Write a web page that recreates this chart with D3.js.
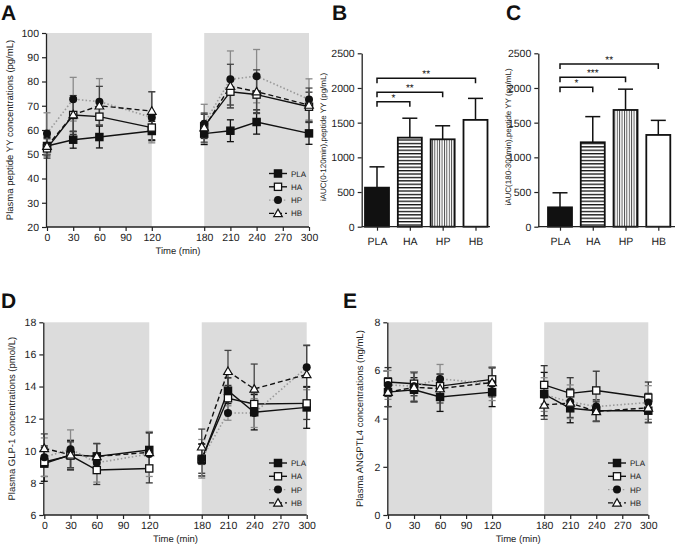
<!DOCTYPE html>
<html><head><meta charset="utf-8">
<script src="https://cdn.jsdelivr.net/npm/d3@7"></script>
<style>
body{margin:0;background:#fff;}
svg{display:block;font-family:"Liberation Sans",Arial,sans-serif;}
</style></head>
<body>
<script>
// ---------- DATA ----------
const groups = ["PLA", "HA", "HP", "HB"];
const times = [0, 30, 60, 120, 180, 210, 240, 300];
const timeTicks = [0, 30, 60, 90, 120, 180, 210, 240, 270, 300];

// Panel A: plasma peptide YY (pg/mL)
const pyyPLA = [53.4, 56.0, 57.1, 59.6, 58.5, 59.7, 63.3, 58.6];
const pyyHA  = [52.4, 66.2, 65.5, 61.0, 61.5, 75.8, 74.6, 69.6];
const pyyHP  = [58.6, 72.7, 71.7, 65.2, 62.6, 80.9, 82.2, 72.6];
const pyyHB  = [53.3, 66.3, 70.0, 67.8, 61.0, 78.1, 75.8, 70.3];
const pyyErrPLA = [3.5, 3.5, 4.5, 4.0, 4.5, 4.5, 5.0, 4.5];
const pyyErrHA  = [4.0, 8.0, 3.5, 5.0, 5.0, 5.5, 7.5, 6.0];
const pyyErrHP  = [8.5, 9.0, 9.5, 10.5, 8.0, 11.7, 11.0, 8.5];
const pyyErrHB  = [4.0, 7.0, 8.0, 8.0, 6.0, 9.0, 9.0, 7.0];
const pyyTicks = [20, 30, 40, 50, 60, 70, 80, 90, 100];

// Panel B/C: iAUC peptide YY
const aucEarly = [563, 1284, 1260, 1540];
const aucEarlyErr = [300, 280, 195, 310];
const aucLate = [279, 1217, 1683, 1323];
const aucLateErr = [210, 370, 300, 210];
const aucTicks = [0, 500, 1000, 1500, 2000, 2500];
const sigEarly = [["HA", "*", 1800], ["HP", "**", 1940], ["HB", "**", 2140]];
const sigLate  = [["HA", "*", 2010], ["HP", "***", 2155], ["HB", "**", 2345]];

// Panel D: GLP-1 (pmol/L)
const glpPLA = [9.2, 9.75, 9.65, 10.05, 9.43, 13.74, 12.4, 12.7];
const glpHA  = [9.3, 9.7, 8.8, 8.9, 9.5, 13.27, 12.91, 12.95];
const glpHP  = [9.6, 10.1, 9.25, 9.8, 9.5, 12.35, 12.35, 15.2];
const glpHB  = [10.15, 9.75, 9.65, 9.9, 10.25, 14.95, 13.85, 14.75];
const glpErrPLA = [1.1, 0.9, 0.8, 1.1, 1.0, 0.8, 1.1, 1.3];
const glpErrHA  = [0.9, 0.9, 0.9, 0.9, 0.9, 0.8, 0.7, 1.0];
const glpErrHP  = [1.2, 1.2, 1.2, 1.4, 1.2, 0.45, 0.9, 1.4];
const glpErrHB  = [0.9, 0.8, 0.8, 1.2, 1.1, 1.3, 1.55, 1.8];
const glpTicks = [6, 8, 10, 12, 14, 16, 18];

// Panel E: ANGPTL4 (ng/mL)
const angPLA = [5.1, 5.2, 4.9, 5.1, 5.02, 4.43, 4.33, 4.33];
const angHA  = [5.52, 5.45, 5.35, 5.63, 5.4, 5.05, 5.17, 4.87];
const angHP  = [5.4, 5.35, 5.65, 5.45, 5.0, 4.7, 4.5, 4.67];
const angHB  = [5.1, 5.3, 5.25, 5.5, 4.57, 4.65, 4.3, 4.45];
const angErrPLA = [0.6, 0.5, 0.6, 0.6, 0.9, 0.6, 0.45, 0.5];
const angErrHA  = [0.6, 0.5, 0.5, 0.5, 0.8, 0.65, 0.8, 0.65];
const angErrHP  = [0.6, 0.6, 0.6, 0.7, 0.7, 0.7, 0.6, 0.7];
const angErrHB  = [0.6, 0.6, 0.6, 0.6, 0.6, 0.6, 0.4, 0.6];
const angTicks = [0, 2, 4, 6, 8];

// ---------- STYLE ----------
const styles = {
  PLA: {line: "#111", dash: null, marker: "square", fill: "#111", err: "#111"},
  HA:  {line: "#111", dash: null, marker: "square", fill: "#fff", err: "#333"},
  HP:  {line: "#9a9a9a", dash: "1.5,2.2", marker: "circle", fill: "#111", err: "#8a8a8a"},
  HB:  {line: "#111", dash: "5,3", marker: "triangle", fill: "#fff", err: "#444"}
};
const shade = "#dcdcdc";
const txt = "#222";

const svg = d3.select("body").append("svg").attr("width", 675).attr("height", 544)
  .attr("text-rendering", "geometricPrecision");

function letter(t, x, y) {
  svg.append("text").attr("x", x).attr("y", y).text(t)
    .attr("font-size", 21).attr("font-weight", "bold").attr("fill", "#111");
}

function marker(g, type, x, y, fill) {
  if (type === "square") {
    g.append("rect").attr("x", x - 3.6).attr("y", y - 3.6).attr("width", 7.2).attr("height", 7.2)
      .attr("fill", fill).attr("stroke", "#111").attr("stroke-width", 1.3);
  } else if (type === "circle") {
    g.append("circle").attr("cx", x).attr("cy", y).attr("r", 4).attr("fill", fill);
  } else {
    const s = 4.3;
    g.append("path").attr("d", `M${x},${y - s}L${x + s},${y + s * 0.75}L${x - s},${y + s * 0.75}Z`)
      .attr("fill", fill).attr("stroke", "#111").attr("stroke-width", 1.2);
  }
}

function styleAxis(a) {
  a.selectAll("path").attr("stroke", txt).attr("stroke-width", 1.3);
  a.selectAll("line").attr("stroke", txt).attr("stroke-width", 1.2);
  a.selectAll("text").attr("font-size", 10.5).attr("fill", txt)
    .attr("font-family", "Liberation Sans, Arial, sans-serif");
}

function lineChart(cfg) {
  const x = d3.scaleLinear().domain([0, 300]).range([cfg.x0, cfg.x1]);
  const y = d3.scaleLinear().domain(cfg.yDomain).range([cfg.yB, cfg.yT]);
  const g = svg.append("g");
  [[0, 120], [180, 300]].forEach(([a, b]) => {
    g.append("rect").attr("x", x(a)).attr("y", cfg.yT).attr("width", x(b) - x(a))
      .attr("height", cfg.yB - cfg.yT).attr("fill", shade);
  });
  const ax = g.append("g").attr("transform", `translate(0,${cfg.yB})`)
    .call(d3.axisBottom(x).tickValues(timeTicks).tickSize(4).tickPadding(3).tickSizeOuter(0));
  const ay = g.append("g").attr("transform", `translate(${cfg.axX},0)`)
    .call(d3.axisLeft(y).tickValues(cfg.yTicks).tickSize(4).tickPadding(3).tickSizeOuter(0));
  styleAxis(ax); styleAxis(ay);
  ax.select("path").attr("d", `M${cfg.axX},0H${x(300)}`);
  g.append("text").attr("x", (x(0) + x(300)) / 2).attr("y", cfg.yB + 27).attr("text-anchor", "middle")
    .attr("font-size", 9.5).attr("fill", txt).text("Time (min)");
  g.append("text").attr("transform", `translate(${cfg.labX},${(cfg.yT + cfg.yB) / 2}) rotate(-90)`)
    .attr("text-anchor", "middle").attr("font-size", 9.5).attr("fill", txt).text(cfg.yLabel);

  groups.forEach((grp, gi) => {
    const st = styles[grp];
    const vals = cfg.series[gi], errs = cfg.errs[gi];
    times.forEach((t, i) => {
      const cx = x(t), lo = y(vals[i] - errs[i]), hi = y(vals[i] + errs[i]);
      g.append("line").attr("x1", cx).attr("x2", cx).attr("y1", lo).attr("y2", hi)
        .attr("stroke", st.err).attr("stroke-width", 1.3);
      [lo, hi].forEach(yy => g.append("line").attr("x1", cx - 3.5).attr("x2", cx + 3.5)
        .attr("y1", yy).attr("y2", yy).attr("stroke", st.err).attr("stroke-width", 1.3));
    });
  });
  const lineGen = d3.line().x(d => x(d[0])).y(d => y(d[1]));
  groups.forEach((grp, gi) => {
    const st = styles[grp];
    const pts = times.map((t, i) => [t, cfg.series[gi][i]]);
    [pts.filter(p => p[0] <= 120), pts.filter(p => p[0] >= 180)].forEach(seg => {
      g.append("path").attr("d", lineGen(seg)).attr("fill", "none")
        .attr("stroke", st.line).attr("stroke-width", grp === "HP" ? 1.6 : 1.4)
        .attr("stroke-dasharray", st.dash);
    });
  });
  groups.forEach((grp, gi) => {
    const st = styles[grp];
    times.forEach((t, i) => marker(g, st.marker, x(t), y(cfg.series[gi][i]), st.fill));
  });
  groups.forEach((grp, gi) => {
    const st = styles[grp];
    const ly = cfg.legY + gi * 13.3;
    g.append("line").attr("x1", cfg.legX - 9).attr("x2", cfg.legX + 9).attr("y1", ly).attr("y2", ly)
      .attr("stroke", st.line).attr("stroke-width", 1.4).attr("stroke-dasharray", st.dash);
    marker(g, st.marker, cfg.legX, ly, st.fill);
    g.append("text").attr("x", cfg.legX + 13).attr("y", ly + 3).attr("font-size", 8)
      .attr("fill", txt).text(grp);
  });
}

const defs = svg.append("defs");
const pH = defs.append("pattern").attr("id", "hstripe").attr("patternUnits", "userSpaceOnUse")
  .attr("width", 6).attr("height", 3.4);
pH.append("rect").attr("width", 6).attr("height", 3.4).attr("fill", "#fff");
pH.append("rect").attr("y", 0).attr("width", 6).attr("height", 1.3).attr("fill", "#111");
const pV = defs.append("pattern").attr("id", "vstripe").attr("patternUnits", "userSpaceOnUse")
  .attr("width", 2.4).attr("height", 6);
pV.append("rect").attr("width", 2.4).attr("height", 6).attr("fill", "#fff");
pV.append("rect").attr("x", 0).attr("width", 0.9).attr("height", 6).attr("fill", "#444");
const barFill = {PLA: "#111", HA: "url(#hstripe)", HP: "url(#vstripe)", HB: "#fff"};

function barChart(cfg) {
  const x = d3.scalePoint().domain(groups).range([cfg.c0, cfg.c1]);
  const y = d3.scaleLinear().domain([0, 2500]).range([226.7, 53.3]);
  const g = svg.append("g");
  const bw = 24;
  groups.forEach((grp, i) => {
    const cx = x(grp), top = y(cfg.vals[i]), et = y(cfg.vals[i] + cfg.errs[i]);
    g.append("line").attr("x1", cx).attr("x2", cx).attr("y1", top).attr("y2", et)
      .attr("stroke", "#111").attr("stroke-width", 1.5);
    g.append("line").attr("x1", cx - 7.5).attr("x2", cx + 7.5).attr("y1", et).attr("y2", et)
      .attr("stroke", "#111").attr("stroke-width", 1.5);
    g.append("rect").attr("x", cx - bw / 2).attr("y", top).attr("width", bw).attr("height", y(0) - top)
      .attr("fill", barFill[grp]).attr("stroke", "#111").attr("stroke-width", 1.8);
  });
  const ax = g.append("g").attr("transform", `translate(0,${y(0)})`)
    .call(d3.axisBottom(x).tickSize(4).tickPadding(7).tickSizeOuter(0));
  const ay = g.append("g").attr("transform", `translate(${cfg.axX},0)`)
    .call(d3.axisLeft(y).tickValues(aucTicks).tickFormat(d3.format("d")).tickSize(4).tickPadding(3).tickSizeOuter(0));
  ax.select("path").attr("d", `M${cfg.axX},0H${cfg.axEnd}`);
  styleAxis(ax); styleAxis(ay);
  g.append("text").attr("transform", `translate(${cfg.labX},137) rotate(-90)`)
    .attr("text-anchor", "middle").attr("font-size", 8).attr("fill", txt).text(cfg.yLabel);
  cfg.sig.forEach(([to, star, lvl]) => {
    const x1 = x("PLA"), x2 = x(to), yy = y(lvl);
    g.append("path").attr("d", `M${x1},${yy + 5}V${yy}H${x2}V${yy + 5}`).attr("fill", "none")
      .attr("stroke", "#111").attr("stroke-width", 1.5);
    g.append("text").attr("x", (x1 + x2) / 2).attr("y", yy - 1).attr("text-anchor", "middle")
      .attr("font-size", 10).attr("fill", "#111").text(star);
  });
}

// ---------- DRAW ----------
letter("A", 1, 20); letter("B", 332, 20); letter("C", 506, 20);
letter("D", 1, 308); letter("E", 343, 308);

lineChart({x0: 47, x1: 309, axX: 46, yT: 33, yB: 227, yDomain: [20, 100], yTicks: pyyTicks,
  series: [pyyPLA, pyyHA, pyyHP, pyyHB], errs: [pyyErrPLA, pyyErrHA, pyyErrHP, pyyErrHB],
  labX: 13, yLabel: "Plasma peptide YY concentrations (pg/mL)", legX: 278, legY: 173.5});

barChart({c0: 377, c1: 475.5, axX: 361.7, axEnd: 490, vals: aucEarly, errs: aucEarlyErr,
  sig: sigEarly, labX: 326, yLabel: "iAUC(0-120min),peptide YY (pg/mL)"});
barChart({c0: 560, c1: 658.3, axX: 538.3, axEnd: 675, vals: aucLate, errs: aucLateErr,
  sig: sigLate, labX: 511, yLabel: "iAUC(180-300min),peptide YY (pg/mL)"});

lineChart({x0: 44.3, x1: 306.7, axX: 43.3, yT: 322.3, yB: 515, yDomain: [6, 18], yTicks: glpTicks,
  series: [glpPLA, glpHA, glpHP, glpHB], errs: [glpErrPLA, glpErrHA, glpErrHP, glpErrHB],
  labX: 15, yLabel: "Plasma GLP-1 concentrations (pmol/L)", legX: 278, legY: 463});

lineChart({x0: 388, x1: 648.3, axX: 387.3, yT: 322.3, yB: 515, yDomain: [0, 8], yTicks: angTicks,
  series: [angPLA, angHA, angHP, angHB], errs: [angErrPLA, angErrHA, angErrHP, angErrHB],
  labX: 363, yLabel: "Plasma ANGPTL4 concentrations (ng/mL)", legX: 617, legY: 463});
</script>
</body></html>
